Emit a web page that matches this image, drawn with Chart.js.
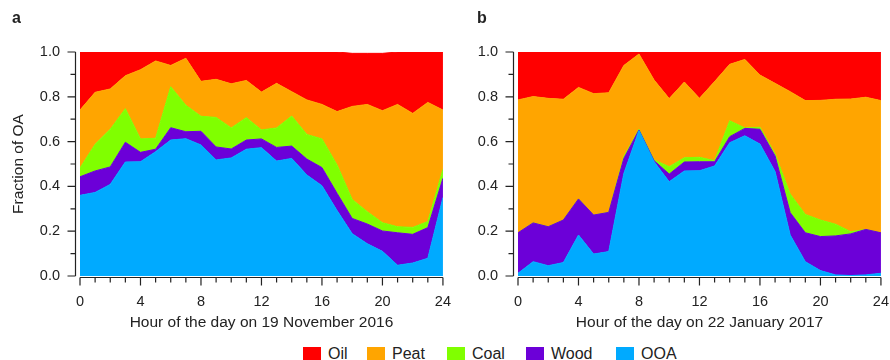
<!DOCTYPE html>
<html>
<head>
<meta charset="utf-8">
<script src="https://cdn.jsdelivr.net/npm/chart.js@4.4.1/dist/chart.umd.min.js"></script>
<style>
  body { margin: 0; background: #fff; font-family: "Liberation Sans", Arial, sans-serif; color: #222; }
  #wrap { position: relative; width: 890px; height: 360px; overflow: hidden; }
  canvas { position: absolute; top: 0; }
  .tag { position: absolute; top: 9px; font-weight: bold; font-size: 16px; }
  .key { position: absolute; top: 346px; display: flex; align-items: center; font-size: 16px; line-height: 16px; }
  .key span { display: inline-block; width: 18px; height: 14px; margin-right: 7px; }
</style>
</head>
<body>
<div id="wrap">
  <canvas id="chartA" width="468" height="340" style="left:0px"></canvas>
  <canvas id="chartB" width="468" height="340" style="left:438px"></canvas>
  <div class="tag" style="left:12px">a</div>
  <div class="tag" style="left:477px">b</div>
  <div id="legend"></div>
</div>
<script>
// hour of the day
const hours = [0, 1, 2, 3, 4, 5, 6, 7, 8, 9, 10, 11, 12, 13, 14, 15, 16, 17, 18, 19, 20, 21, 22, 23, 24];

// panel a: 19 November 2016 (fractions of OA)
const ooaA  = [0.360, 0.373, 0.409, 0.509, 0.510, 0.555, 0.607, 0.613, 0.585, 0.518, 0.527, 0.566, 0.573, 0.513, 0.525, 0.451, 0.403, 0.292, 0.189, 0.144, 0.110, 0.048, 0.058, 0.079, 0.350];
const woodA = [0.083, 0.096, 0.078, 0.088, 0.042, 0.011, 0.055, 0.031, 0.061, 0.058, 0.040, 0.041, 0.039, 0.061, 0.055, 0.071, 0.081, 0.077, 0.068, 0.088, 0.091, 0.145, 0.128, 0.137, 0.086];
const coalA = [0.039, 0.119, 0.168, 0.150, 0.060, 0.049, 0.183, 0.118, 0.067, 0.132, 0.094, 0.100, 0.040, 0.087, 0.134, 0.110, 0.128, 0.127, 0.085, 0.055, 0.037, 0.027, 0.031, 0.027, 0.040];
const peatA = [0.259, 0.232, 0.180, 0.147, 0.309, 0.345, 0.095, 0.210, 0.156, 0.170, 0.197, 0.166, 0.169, 0.199, 0.109, 0.154, 0.154, 0.238, 0.415, 0.479, 0.500, 0.546, 0.509, 0.532, 0.265];
const oilA  = [0.259, 0.180, 0.165, 0.106, 0.079, 0.040, 0.060, 0.028, 0.131, 0.122, 0.142, 0.127, 0.179, 0.140, 0.177, 0.214, 0.234, 0.266, 0.237, 0.228, 0.256, 0.234, 0.274, 0.225, 0.259];

// panel b: 22 January 2017
const ooaB  = [0.012, 0.064, 0.046, 0.060, 0.183, 0.098, 0.109, 0.458, 0.649, 0.510, 0.421, 0.469, 0.470, 0.491, 0.595, 0.626, 0.589, 0.466, 0.183, 0.064, 0.024, 0.005, 0.002, 0.005, 0.012];
const woodB = [0.181, 0.173, 0.174, 0.190, 0.161, 0.174, 0.175, 0.067, 0.003, 0.005, 0.034, 0.040, 0.040, 0.019, 0.027, 0.033, 0.066, 0.070, 0.100, 0.129, 0.152, 0.174, 0.186, 0.203, 0.181];
const coalB = [0, 0, 0, 0, 0, 0, 0, 0.008, 0.003, 0.003, 0.033, 0.019, 0.020, 0.005, 0.071, 0.002, 0.009, 0.009, 0.083, 0.082, 0.074, 0.052, 0.010, 0, 0];
const peatB = [0.593, 0.564, 0.573, 0.539, 0.498, 0.542, 0.534, 0.407, 0.336, 0.357, 0.304, 0.338, 0.263, 0.353, 0.252, 0.306, 0.233, 0.315, 0.457, 0.508, 0.534, 0.558, 0.592, 0.590, 0.590];
const oilB  = [0.214, 0.199, 0.207, 0.211, 0.158, 0.186, 0.182, 0.060, 0.009, 0.125, 0.208, 0.134, 0.207, 0.132, 0.055, 0.033, 0.103, 0.140, 0.177, 0.217, 0.216, 0.211, 0.210, 0.202, 0.217];

const yTicks = [0, 0.2, 0.4, 0.6, 0.8, 1.0];
const xTicks = [0, 4, 8, 12, 16, 20, 24];

const sources = ['OOA', 'Wood', 'Coal', 'Peat', 'Oil'];
const colors = { OOA: '#00aaff', Wood: '#6c00d8', Coal: '#80ff00', Peat: '#ffa500', Oil: '#ff0000' };
const FONT = '"Liberation Sans", Arial, sans-serif';
const INK = '#222';

// axis lines + major/minor ticks, offset from the plot like the original
const axesPlugin = {
  id: 'axes',
  afterDraw(chart) {
    const { ctx, chartArea, scales } = chart;
    const x = scales.x, y = scales.y;
    ctx.save();
    ctx.strokeStyle = INK;
    ctx.lineWidth = 1.2;
    const ax = chartArea.left - 4.5;
    const ay = chartArea.bottom + 1.5;
    ctx.beginPath();
    ctx.moveTo(ax, y.getPixelForValue(0));
    ctx.lineTo(ax, y.getPixelForValue(1));
    for (let i = 0; i <= 10; i++) {
      const py = y.getPixelForValue(i / 10);
      ctx.moveTo(ax, py);
      ctx.lineTo(ax - (i % 2 === 0 ? 8 : 5), py);
    }
    ctx.moveTo(x.getPixelForValue(0), ay);
    ctx.lineTo(x.getPixelForValue(24), ay);
    hours.forEach(h => {
      const px = x.getPixelForValue(h);
      ctx.moveTo(px, ay);
      ctx.lineTo(px, ay + (h % 4 === 0 ? 8 : 5));
    });
    ctx.stroke();
    ctx.restore();
  }
};

function makeChart(id, series, xLabel, showYTitle) {
  const datasets = sources.map((name, i) => ({
    label: name,
    data: hours.map((h, k) => ({ x: h, y: series[i][k] })),
    backgroundColor: colors[name],
    borderColor: colors[name],
    borderWidth: 1,
    pointRadius: 0,
    tension: 0,
    fill: i === 0 ? 'origin' : '-1'
  }));
  return new Chart(document.getElementById(id), {
    type: 'line',
    data: { datasets },
    plugins: [axesPlugin],
    options: {
      responsive: false,
      animation: false,
      events: [],
      layout: { padding: { top: 52, right: 6, left: 0, bottom: 0 } },
      plugins: { legend: { display: false }, tooltip: { enabled: false } },
      scales: {
        x: {
          type: 'linear', min: 0, max: 24,
          grid: { display: false, drawTicks: false },
          border: { display: false },
          afterBuildTicks: s => { s.ticks = xTicks.map(v => ({ value: v })); },
          ticks: { padding: 17, color: INK, font: { family: FONT, size: 14.5 }, maxRotation: 0 },
          title: { display: true, text: xLabel, color: INK, font: { family: FONT, size: 15.5 }, padding: { top: 0, bottom: 8 } },
          afterFit: s => { s.height = 64; }
        },
        y: {
          stacked: true, min: 0, max: 1,
          grid: { display: false, drawTicks: false },
          border: { display: false },
          afterBuildTicks: s => { s.ticks = yTicks.map(v => ({ value: v })); },
          ticks: { padding: 20, color: INK, font: { family: FONT, size: 14.5 }, callback: v => v.toFixed(1) },
          title: { display: showYTitle, text: 'Fraction of OA', color: INK, font: { family: FONT, size: 15.5 }, padding: { top: 9, bottom: 0 } },
          afterFit: s => { s.width = 80; }
        }
      }
    }
  });
}

makeChart('chartA', [ooaA, woodA, coalA, peatA, oilA], 'Hour of the day on 19 November 2016', true);
makeChart('chartB', [ooaB, woodB, coalB, peatB, oilB], 'Hour of the day on 22 January 2017', false);

// legend, top-down order as in the figure
const legendPos = { Oil: 303, Peat: 367, Coal: 447, Wood: 526, OOA: 616 };
const legend = document.getElementById('legend');
['Oil', 'Peat', 'Coal', 'Wood', 'OOA'].forEach(name => {
  const item = document.createElement('div');
  item.className = 'key';
  item.style.left = legendPos[name] + 'px';
  item.innerHTML = '<span style="background:' + colors[name] + '"></span>' + name;
  legend.appendChild(item);
});
</script>
</body>
</html>
